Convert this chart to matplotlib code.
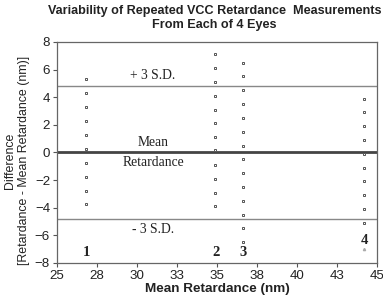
import matplotlib
matplotlib.use('Agg')
import matplotlib.pyplot as plt

# mean retardance of each eye and difference of each repeat from that mean
eye_names = ['1', '2', '3', '4']
eye_x = [26.8, 34.9, 36.6, 44.2]
label_y = [-7.25, -7.25, -7.25, -6.4]
diffs_1 = [5.3, 4.3, 3.3, 2.3, 1.27, 0.25, -0.74, -1.75, -2.76, -3.74]
diffs_2 = [7.1, 6.1, 5.1, 4.1, 3.1, 2.1, 1.1, 0.15, -0.9, -1.9, -2.9, -3.9]
diffs_3 = [6.5, 5.5, 4.5, 3.5, 2.5, 1.5, 0.5, -0.5, -1.5, -2.5, -3.5, -4.5, -5.5, -6.5]
diffs_4 = [3.9, 2.9, 1.9, 0.9, -0.1, -1.1, -2.1, -3.1, -4.1, -5.1]
extra_x = [44.2]
extra_y = [-7.0]
sd3 = 4.8
xticks = [25, 27.5, 30, 32.5, 35, 37.5, 40, 42.5, 45]
xticklabels = ['25', '28', '30', '33', '35', '38', '40', '43', '45']
yticks = [-8, -6, -4, -2, 0, 2, 4, 6, 8]

plt.rcParams['font.family'] = ['Liberation Sans', 'DejaVu Sans']
fig = plt.figure(figsize=(3.83, 3.04), dpi=100)
ax = fig.add_axes([0.149, 0.135, 0.835, 0.727])

for xv, ys in zip(eye_x, [diffs_1, diffs_2, diffs_3, diffs_4]):
  ax.plot([xv] * len(ys), ys, 's', ms=1.9, mfc='white', mec='#555555', mew=0.7, zorder=3)
ax.plot(extra_x, extra_y, '^', ms=1.6, mfc='#aaaaaa', mec='#aaaaaa', zorder=3)

ax.axhline(0, color='#444444', lw=2.0, zorder=2)
ax.axhline(sd3, color='#888888', lw=1.0, zorder=2)
ax.axhline(-sd3, color='#888888', lw=1.0, zorder=2)

serif = ['Liberation Serif', 'DejaVu Serif']
ax.text(31.0, 5.6, '+ 3 S.D.', family=serif, fontsize=9.8, ha='center', va='center', color='#222222')
ax.text(31.0, 0.75, 'Mean', family=serif, fontsize=9.8, ha='center', va='center', color='#222222')
ax.text(31.0, -0.7, 'Retardance', family=serif, fontsize=9.8, ha='center', va='center', color='#222222')
ax.text(31.0, -5.6, '- 3 S.D.', family=serif, fontsize=9.8, ha='center', va='center', color='#222222')
for name, xv, yv in zip(eye_names, eye_x, label_y):
  ax.text(xv + 0.05, yv, name, family=serif, fontsize=10.5, fontweight='bold', ha='center', va='center', color='#222222')

ax.set_xlim(25, 45)
ax.set_ylim(-8, 8)
ax.set_xticks(xticks)
ax.set_xticklabels(xticklabels)
ax.set_yticks(yticks)
ax.tick_params(labelsize=9.6, length=3, width=0.8, color='#555555', labelcolor='#222222', pad=2)
for s in ax.spines.values():
  s.set_color('#666666')
  s.set_linewidth(0.9)

ax.set_xlabel('Mean Retardance (nm)', fontsize=9.7, fontweight='bold', labelpad=1, color='#222222')
fig.text(0.044, 0.472, 'Difference\n[Retardance - Mean Retardance (nm)]', rotation=90,
         ha='center', va='center', fontsize=8.9, color='#222222', linespacing=1.15)
fig.text(0.56, 0.985, 'Variability of Repeated VCC Retardance  Measurements\nFrom Each of 4 Eyes',
         ha='center', va='top', fontsize=9.1, fontweight='bold', color='#222222', linespacing=1.25)

fig.savefig('out.png', dpi=100)
